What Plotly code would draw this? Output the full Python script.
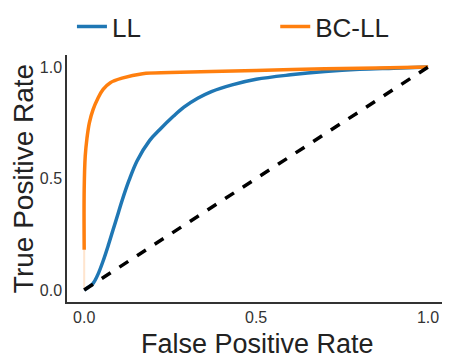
import plotly.graph_objects as go

# ROC curves
fpr_ll = [0.0, 0.01, 0.026, 0.04, 0.055, 0.07, 0.084, 0.1, 0.11, 0.13, 0.154, 0.19, 0.22, 0.26, 0.29, 0.33, 0.37, 0.43, 0.5, 0.6, 0.7, 0.8, 0.9, 1.0]
tpr_ll = [0.0, 0.01, 0.03, 0.07, 0.13, 0.2, 0.27, 0.35, 0.4, 0.49, 0.58, 0.67, 0.72, 0.78, 0.82, 0.86, 0.89, 0.92, 0.945, 0.965, 0.98, 0.99, 0.995, 1.0]

fpr_bc = [0.0, 0.0, 0.003, 0.008, 0.015, 0.026, 0.04, 0.055, 0.076, 0.11, 0.17, 0.25, 0.37, 0.5, 0.7, 0.85, 1.0]
tpr_bc = [0.18, 0.45, 0.6, 0.68, 0.75, 0.81, 0.86, 0.9, 0.93, 0.95, 0.97, 0.975, 0.98, 0.985, 0.992, 0.996, 1.0]

# faint start of the BC-LL curve
fpr_bc_start = [0.0, 0.0]
tpr_bc_start = [0.0, 0.18]

diag = [0.0, 1.0]

fig = go.Figure()

fig.add_trace(go.Scatter(
    x=fpr_ll, y=tpr_ll, mode="lines", name="LL", legend="legend",
    line=dict(color="#1f77b4", width=3.5, shape="spline"),
))
fig.add_trace(go.Scatter(
    x=fpr_bc_start, y=tpr_bc_start, mode="lines", showlegend=False,
    line=dict(color="#ff7f0e", width=2), opacity=0.2,
))
fig.add_trace(go.Scatter(
    x=fpr_bc, y=tpr_bc, mode="lines", name="BC-LL", legend="legend2",
    line=dict(color="#ff7f0e", width=3.5, shape="spline"),
))
fig.add_trace(go.Scatter(
    x=diag, y=diag, mode="lines", showlegend=False,
    line=dict(color="black", width=3.5, dash="dash"),
))

legend_style = dict(
    orientation="h", y=1.115, yanchor="middle", xanchor="left",
    font=dict(size=26), bgcolor="rgba(0,0,0,0)",
)

# margins allow for the 8px body margin of the html page
fig.update_layout(
    width=450, height=360,
    margin=dict(l=59, r=11, t=47, b=66, autoexpand=False),
    template="plotly_white",
    plot_bgcolor="white",
    paper_bgcolor="white",
    font=dict(family="Liberation Sans, Arial", color="#222"),
    legend=dict(x=0.013, **legend_style),
    legend2=dict(x=0.548, **legend_style),
    xaxis=dict(
        range=[-0.05, 1.055], tickvals=[0, 0.5, 1.0], ticktext=["0.0", "0.5", "1.0"],
        tickfont=dict(size=16, color="#333"), showgrid=False, zeroline=False,
        showline=True, linecolor="#333", linewidth=1.5, ticks="", ticklen=0,
    ),
    yaxis=dict(
        title=dict(text="True Positive Rate", font=dict(size=28), standoff=4),
        range=[-0.054, 1.054], tickvals=[0, 0.5, 1.0], ticktext=["0.0", "0.5", "1.0"],
        tickfont=dict(size=16, color="#333"), showgrid=False, zeroline=False,
        showline=True, linecolor="#333", linewidth=1.5, ticks="", ticklen=0,
    ),
)

# x axis title as annotation so it can sit closer to the tick labels
fig.add_annotation(
    text="False Positive Rate", xref="paper", yref="paper",
    x=0.5, y=-0.17, xanchor="center", yanchor="middle",
    showarrow=False, font=dict(size=27, color="#222"),
)

fig.write_html("out.html")
